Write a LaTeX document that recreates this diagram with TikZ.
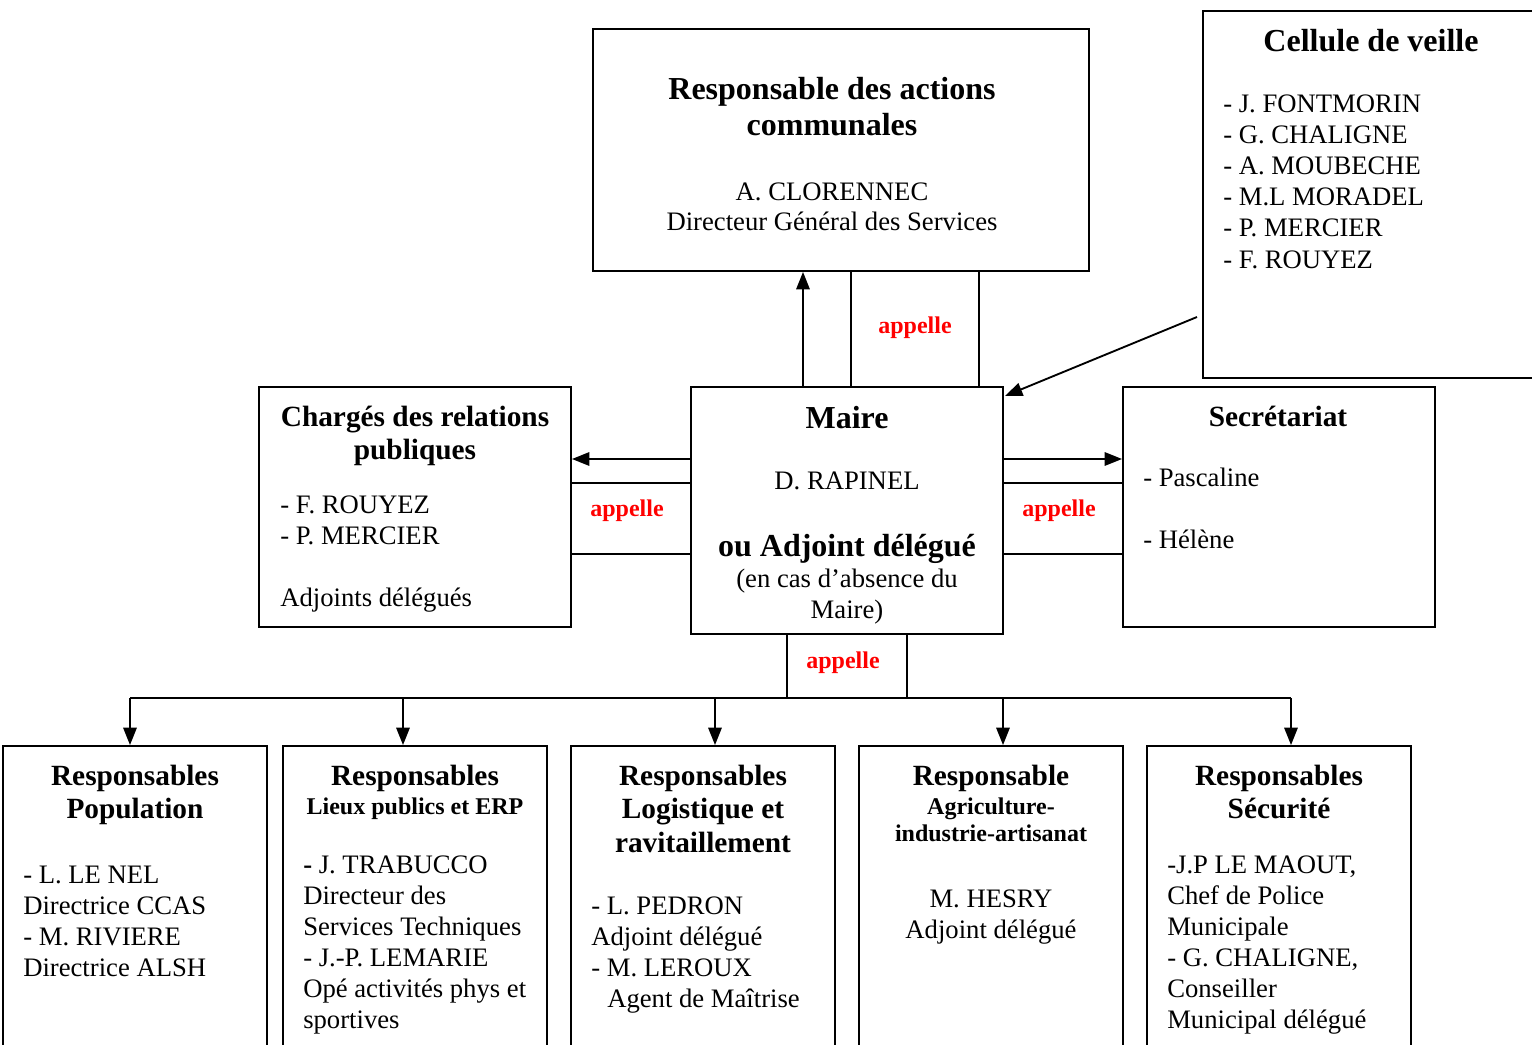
\documentclass[tikz,border=0pt]{standalone}
\usepackage{fontspec}
\setmainfont{Liberation Serif}
\usetikzlibrary{fit,arrows.meta,calc}
\begin{document}
\begin{tikzpicture}[x=0.75pt,y=-0.75pt,
  box/.style={draw,line width=1.4pt,inner sep=0pt,fit={#1}},
  body/.style={font=\fontsize{20}{23}\selectfont,inner sep=0pt},
  tbig/.style={font=\bfseries\fontsize{24}{27}\selectfont,inner sep=0pt},
  tmid/.style={font=\bfseries\fontsize{22}{25}\selectfont,inner sep=0pt},
  tsml/.style={font=\bfseries\fontsize{18}{21}\selectfont,inner sep=0pt},
  app/.style={font=\bfseries\fontsize{18}{21}\selectfont,text=red,inner sep=0pt},
  conn/.style={line width=1.4pt},
  arr/.style={line width=1.4pt,-{Triangle[length=13pt,width=10pt]}}]
\useasboundingbox (0,0) rectangle (1532,1045);
\clip (0,0) rectangle (1532,1045);
% boxes
\node[box={(593,29) (1089,271)}] (top) {};
\node[box={(1203,11) (1560,378)}] (cel) {};
\node[box={(259,387) (571,627)}] (charg) {};
\node[box={(691,387) (1003,634)}] (maire) {};
\node[box={(1123,387) (1435,627)}] (secr) {};
\node[box={(3,746) (267,1070)}] (b1) {};
\node[box={(283,746) (547,1070)}] (b2) {};
\node[box={(571,746) (835,1070)}] (b3) {};
\node[box={(859,746) (1123,1070)}] (b4) {};
\node[box={(1147,746) (1411,1070)}] (b5) {};
% top box text
\node[tbig,anchor=base] (ta) at (832,100) {Responsable des actions};
\node[tbig,anchor=base] (tb) at (832,136) {communales};
\node[body,anchor=base] (tc) at (832,200) {A. CLORENNEC};
\node[body,anchor=base] (td) at (832,231) {Directeur Général des Services};
% cellule
\node[tbig,anchor=base] (ca) at (1371,52) {Cellule de veille};
\foreach \t [count=\i] in {J. FONTMORIN,G. CHALIGNE,A. MOUBECHE,M.L MORADEL,P. MERCIER,F. ROUYEZ}
  \node[body,anchor=base west] (cl\i) at (1223,{113+31*(\i-1)}) {- \t};
% charges
\node[tmid,anchor=base] (cha) at (415,426) {Chargés des relations};
\node[tmid,anchor=base] (chb) at (415,459) {publiques};
\node[body,anchor=base west] (chc) at (280,513) {- F. ROUYEZ};
\node[body,anchor=base west] (chd) at (280,544) {- P. MERCIER};
\node[body,anchor=base west] (che) at (280,606) {Adjoints délégués};
% maire
\node[tbig,anchor=base] (ma) at (847,428) {Maire};
\node[body,anchor=base] (mb) at (847,489) {D. RAPINEL};
\node[tbig,anchor=base] (mc) at (847,556) {ou Adjoint délégué};
\node[body,anchor=base] (md) at (847,587) {(en cas d’absence du};
\node[body,anchor=base] (me) at (847,618) {Maire)};
% secretariat
\node[tmid,anchor=base] (sa) at (1278,426) {Secrétariat};
\node[body,anchor=base west] (sb) at (1143,486) {- Pascaline};
\node[body,anchor=base west] (sc) at (1143,548) {- Hélène};
% bottom box 1
\node[tmid,anchor=base] (p1) at (135,785) {Responsables};
\node[tmid,anchor=base] (p2) at (135,818) {Population};
\foreach \t [count=\i] in {- L. LE NEL,Directrice CCAS,- M. RIVIERE,Directrice ALSH}
  \node[body,anchor=base west] (pl\i) at (23,{883+31*(\i-1)}) {\t};
% bottom box 2
\node[tmid,anchor=base] (l1) at (415,785) {Responsables};
\node[tsml,anchor=base] (l2) at (415,814) {Lieux publics et ERP};
\node[body,anchor=base west] (ll1) at (303,873) {{\bfseries -} J. TRABUCCO};
\foreach \t [count=\i from 2] in {Directeur des,Services Techniques,- J.-P. LEMARIE,Opé activités phys et,sportives}
  \node[body,anchor=base west] (ll\i) at (303,{873+31*(\i-1)}) {\t};
% bottom box 3
\node[tmid,anchor=base] (g1) at (703,785) {Responsables};
\node[tmid,anchor=base] (g2) at (703,818) {Logistique et};
\node[tmid,anchor=base] (g3) at (703,852) {ravitaillement};
\node[body,anchor=base west] (gl1) at (591,914) {- L. PEDRON};
\node[body,anchor=base west] (gl2) at (591,945) {Adjoint délégué};
\node[body,anchor=base west] (gl3) at (591,976) {- M. LEROUX};
\node[body,anchor=base west] (gl4) at (607,1007) {Agent de Maîtrise};
% bottom box 4
\node[tmid,anchor=base] (a1) at (991,785) {Responsable};
\node[tsml,anchor=base] (a2) at (991,814) {Agriculture-};
\node[tsml,anchor=base] (a3) at (991,841) {industrie-artisanat};
\node[body,anchor=base] (a4) at (991,907) {M. HESRY};
\node[body,anchor=base] (a5) at (991,938) {Adjoint délégué};
% bottom box 5
\node[tmid,anchor=base] (s1) at (1279,785) {Responsables};
\node[tmid,anchor=base] (s2) at (1279,818) {Sécurité};
\node[body,anchor=base west] (sl1) at (1167,873) {-J.P LE MAOUT,};
\node[body,anchor=base west] (sl2) at (1167,904) {Chef de Police};
\node[body,anchor=base west] (sl3) at (1167,935) {Municipale};
\node[body,anchor=base west] (sl4) at (1167,966) {- G. CHALIGNE,};
\node[body,anchor=base west] (sl5) at (1167,997) {Conseiller};
\node[body,anchor=base west] (sl6) at (1167,1028) {Municipal délégué};
% appelle labels
\node[app] (ap1) at (915,328) {appelle};
\node[app] (ap2) at (627,511) {appelle};
\node[app] (ap3) at (1059,511) {appelle};
\node[app] (ap4) at (843,663) {appelle};
% helper coordinates
\coordinate (x803) at (803,0);
\coordinate (x851) at (851,0);
\coordinate (x979) at (979,0);
\coordinate (y459) at (0,459);
\coordinate (y483) at (0,483);
\coordinate (y554) at (0,554);
\coordinate (x787) at (787,0);
\coordinate (x907) at (907,0);
\coordinate (busL) at (130,698);
\coordinate (busR) at (1291,698);
% top connectors
\draw[arr] (maire.north -| x803) -- (top.south -| x803);
\draw[conn] (maire.north -| x851) -- (top.south -| x851);
\draw[conn] (maire.north -| x979) -- (top.south -| x979);
% left
\draw[arr] (maire.west |- y459) -- (charg.east |- y459);
\draw[conn] (maire.west |- y483) -- (charg.east |- y483);
\draw[conn] (maire.west |- y554) -- (charg.east |- y554);
% right
\draw[arr] (maire.east |- y459) -- (secr.west |- y459);
\draw[conn] (maire.east |- y483) -- (secr.west |- y483);
\draw[conn] (maire.east |- y554) -- (secr.west |- y554);
% cellule arrow
\coordinate (cs) at (1197,317);
\coordinate (ce) at (1005,396);
\draw[arr] (cs) -- (ce);
% bottom
\draw[conn] (maire.south -| x787) -- (busL -| x787);
\draw[conn] (maire.south -| x907) -- (busL -| x907);
\draw[conn] (busL) -- (busR);
\foreach \b/\x in {b1/130,b2/403,b3/715,b4/1003,b5/1291}{
  \coordinate (d\b) at (\x,698);
  \draw[arr] (d\b) -- (\b.north -| d\b);
}
\end{tikzpicture}
\end{document}
